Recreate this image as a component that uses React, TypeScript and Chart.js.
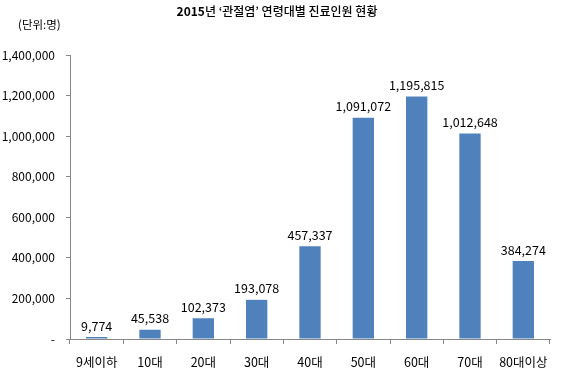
import React, { useEffect, useRef } from "react";
import { Chart, registerables } from "chart.js";

Chart.register(...registerables);

const categories = ["9세이하", "10대", "20대", "30대", "40대", "50대", "60대", "70대", "80대이상"];
const patients = [9774, 45538, 102373, 193078, 457337, 1091072, 1195815, 1012648, 384274];
const yMax = 1400000;
const yStep = 200000;
const titleBold = "2015";
const titleRest = "년 ‘관절염’ 연령대별 진료인원 현황";
const unitText = "(단위:명)";

const FONT = "'Noto Sans CJK KR', 'Noto Sans', sans-serif";

const fmt = (v: number) => v.toLocaleString("en-US");

const overlayPlugin = {
  id: "overlay",
  afterDatasetsDraw(chart: any) {
    const ctx = chart.ctx;
    ctx.save();
    // data labels
    const meta = chart.getDatasetMeta(0);
    ctx.fillStyle = "#000";
    ctx.font = `12.5px ${FONT}`;
    ctx.textAlign = "center";
    ctx.textBaseline = "bottom";
    meta.data.forEach((bar: any, i: number) => {
      ctx.fillText(fmt(patients[i]), bar.x, bar.y - 5);
    });
    // title
    ctx.textBaseline = "middle";
    ctx.textAlign = "left";
    const boldFont = `bold 12px ${FONT}`;
    const regFont = `500 12px ${FONT}`;
    ctx.font = boldFont;
    const w1 = ctx.measureText(titleBold).width;
    ctx.font = regFont;
    const w2 = ctx.measureText(titleRest).width;
    const x0 = 277 - (w1 + w2) / 2;
    ctx.font = boldFont;
    ctx.fillText(titleBold, x0, 11);
    ctx.font = regFont;
    ctx.fillText(titleRest, x0 + w1, 11);
    // unit
    ctx.font = `11.5px ${FONT}`;
    ctx.fillText(unitText, 18, 25);
    ctx.restore();
  },
};

export default function App() {
  const ref = useRef<HTMLCanvasElement>(null);
  useEffect(() => {
    if (!ref.current) return;
    const chart = new Chart(ref.current, {
      type: "bar",
      data: {
        labels: categories,
        datasets: [
          {
            data: patients,
            backgroundColor: "#4F81BD",
            borderWidth: 0,
            barPercentage: 0.4,
            categoryPercentage: 1,
          },
        ],
      },
      options: {
        animation: false,
        responsive: false,
        events: [],
        layout: { padding: { top: 55, right: 30, left: 0, bottom: 0 } },
        plugins: { legend: { display: false }, title: { display: false }, tooltip: { enabled: false } },
        scales: {
          x: {
            offset: true,
            grid: {
              display: true,
              offset: true,
              drawOnChartArea: false,
              drawTicks: true,
              tickLength: 5,
              color: "#868686",
            },
            border: { display: true, color: "#868686", width: 1 },
            ticks: {
              color: "#000",
              font: { family: FONT, size: 12.5 },
              padding: 11,
              maxRotation: 0,
              autoSkip: false,
            },
            afterFit: (s: any) => {
              s.height = 49;
            },
          },
          y: {
            min: 0,
            max: yMax,
            grid: {
              display: true,
              drawOnChartArea: false,
              drawTicks: true,
              tickLength: 4,
              color: "#868686",
            },
            border: { display: true, color: "#868686", width: 1 },
            ticks: {
              stepSize: yStep,
              color: "#000",
              font: { family: FONT, size: 12 },
              padding: 11,
              callback: (v: any) => (Number(v) === 0 ? "-" : fmt(Number(v))),
            },
            afterFit: (s: any) => {
              s.width = 70;
            },
          },
        },
      },
      plugins: [overlayPlugin],
    });
    return () => chart.destroy();
  }, []);
  return (
    <div style={{ position: "fixed", left: 0, top: 0, width: 580, height: 388, background: "#fff" }}>
      <canvas ref={ref} width={580} height={388} style={{ width: 580, height: 388 }} />
    </div>
  );
}
